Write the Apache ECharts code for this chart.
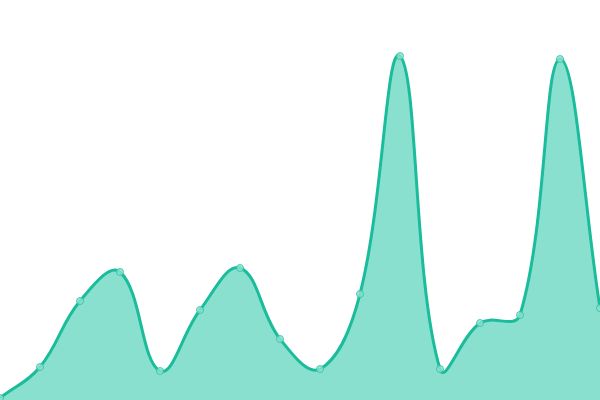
<!DOCTYPE html>
<html>
<head>
<meta charset="utf-8">
<script src="https://cdn.jsdelivr.net/npm/echarts@6/dist/echarts.min.js"></script>
<style>html,body{margin:0;padding:0;background:#fff}#c{width:600px;height:400px}</style>
</head>
<body>
<div id="c"></div>
<script>
var categories = ['1','2','3','4','5','6','7','8','9','10','11','12','13','14','15','16'];
var values = [2, 33, 99, 128, 29, 90, 132, 61, 31, 106, 344, 31, 77, 85, 341, 92];
var yMin = 0;
var yMax = 400;

var lineColor = '#1abc9c';
var fillColor = '#8ae0cf';
var tension = 0.4;

function splinePath(pts, t) {
  var n = pts.length;
  var cps = [];
  for (var i = 0; i < n; i++) {
    var p = pts[i];
    var prev = pts[Math.max(i - 1, 0)];
    var next = pts[Math.min(i + 1, n - 1)];
    var d01 = Math.hypot(p[0] - prev[0], p[1] - prev[1]);
    var d12 = Math.hypot(next[0] - p[0], next[1] - p[1]);
    var s01 = d01 / (d01 + d12), s12 = d12 / (d01 + d12);
    if (!isFinite(s01)) s01 = 0;
    if (!isFinite(s12)) s12 = 0;
    var fa = t * s01, fb = t * s12;
    cps.push({
      prev: [p[0] - fa * (next[0] - prev[0]), p[1] - fa * (next[1] - prev[1])],
      next: [p[0] + fb * (next[0] - prev[0]), p[1] + fb * (next[1] - prev[1])]
    });
  }
  var d = 'M' + pts[0][0] + ' ' + pts[0][1];
  for (var j = 1; j < n; j++) {
    d += ' C' + cps[j - 1].next[0] + ' ' + cps[j - 1].next[1] + ' ' +
         cps[j].prev[0] + ' ' + cps[j].prev[1] + ' ' + pts[j][0] + ' ' + pts[j][1];
  }
  return d;
}

var chart = echarts.init(document.getElementById('c'));
chart.setOption({
  animation: false,
  grid: { left: 0, right: 0, top: 0, bottom: 0 },
  xAxis: { type: 'category', data: categories, boundaryGap: false, show: false },
  yAxis: { type: 'value', min: yMin, max: yMax, show: false },
  series: [{
    type: 'custom',
    data: [[0, values[0]]],
    z: 1,
    renderItem: function (params, api) {
      var pts = values.map(function (v, i) { return api.coord([i, v]); });
      var line = splinePath(pts, tension);
      var last = pts[pts.length - 1];
      var base0 = api.coord([0, yMin]);
      var baseN = api.coord([values.length - 1, yMin]);
      var area = line + ' L' + last[0] + ' ' + baseN[1] + ' L' + base0[0] + ' ' + base0[1] + ' Z';
      return {
        type: 'group',
        children: [
          { type: 'path', shape: { pathData: area }, style: { fill: fillColor, stroke: null } },
          { type: 'path', shape: { pathData: line }, style: { fill: null, stroke: lineColor, lineWidth: 3 } }
        ]
      };
    }
  }, {
    type: 'scatter',
    data: values,
    z: 3,
    symbol: 'circle',
    symbolSize: 7,
    itemStyle: { color: '#90e2d2', borderColor: '#2bbf9f', borderWidth: 1 }
  }]
});
</script>
</body>
</html>
